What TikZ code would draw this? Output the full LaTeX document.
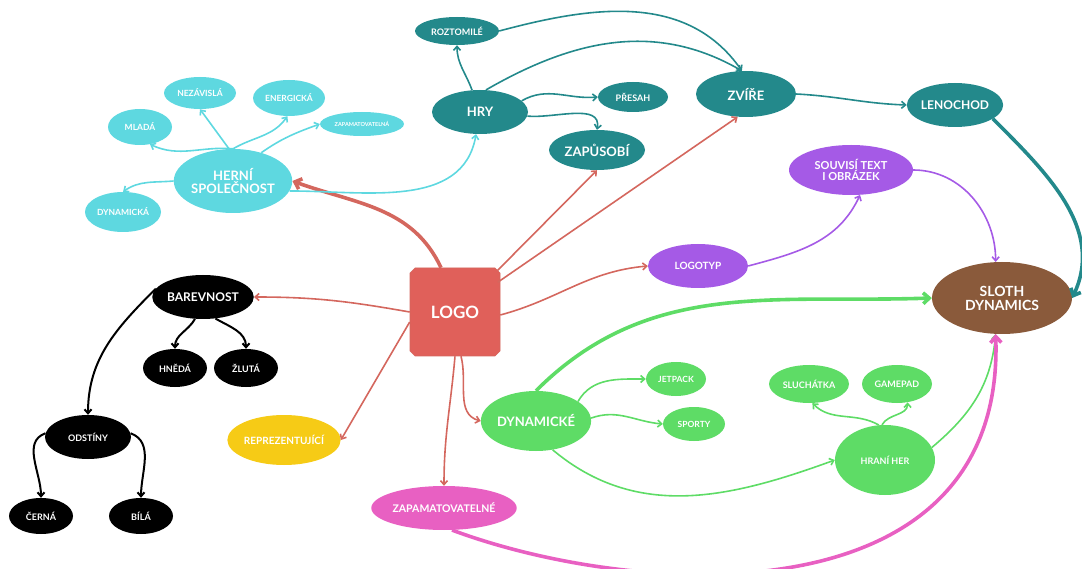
\documentclass[tikz,border=0pt]{standalone}
\usepackage{fontspec}
\setmainfont{Lato}
\usetikzlibrary{shapes.geometric,shapes.misc,arrows.meta}
\definecolor{tealc}{HTML}{23898B}
\definecolor{cyanc}{HTML}{5ED8E0}
\definecolor{redc}{HTML}{E0605A}
\definecolor{redl}{HTML}{D4675E}
\definecolor{purc}{HTML}{A55AE6}
\definecolor{brownc}{HTML}{8A5A3B}
\definecolor{greenc}{HTML}{5EDC66}
\definecolor{pinkc}{HTML}{E860C2}
\definecolor{yelc}{HTML}{F6CB16}
\begin{document}
\begin{tikzpicture}[x=1pt,y=1pt,
  nd/.style={ellipse, inner sep=0pt, text=white, align=center, font=\bfseries\fontsize{10}{11}\selectfont},
  sz/.style 2 args={minimum width=#1pt, minimum height=#2pt},
  fs/.style={font=\bfseries\fontsize{#1}{#1}\selectfont},
  ar/.style={-{Straight Barb[length=4pt,width=7pt]}, line width=1.6pt},
  tk/.style={-{Straight Barb[length=6pt,width=11pt]}, line width=3.6pt},
]
\useasboundingbox (0,0) rectangle (1082,-569);

% nodes
\node[nd, fill=tealc, sz={84}{28}, fs=9] (rozt) at (457,-31) {ROZTOMILÉ};
\node[nd, fill=tealc, sz={96}{44}, fs=13] (hry) at (480,-112) {HRY};
\node[nd, fill=tealc, sz={70}{30}, fs=9] (presah) at (633,-97) {PŘESAH};
\node[nd, fill=tealc, sz={96}{40}, fs=13] (zapus) at (597,-150) {ZAPŮSOBÍ};
\node[nd, fill=tealc, sz={100}{46}, fs=13] (zvire) at (746,-94) {ZVÍŘE};
\node[nd, fill=tealc, sz={96}{44}, fs=12] (leno) at (955,-105) {LENOCHOD};

\node[nd, fill=cyanc, sz={106}{64}, fs=13] (herni) at (233,-181) {HERNÍ\\SPOLEČNOST};
\node[nd, fill=cyanc, sz={64}{36}, fs=8.5] (mlada) at (140,-127) {MLADÁ};
\node[nd, fill=cyanc, sz={72}{32}, fs=8.5] (nezav) at (200,-93) {NEZÁVISLÁ};
\node[nd, fill=cyanc, sz={72}{36}, fs=8.5] (energ) at (289,-98) {ENERGICKÁ};
\node[nd, fill=cyanc, sz={84}{24}, fs=5.5] (zapna) at (362,-124) {ZAPAMATOVATELNÁ};
\node[nd, fill=cyanc, sz={76}{40}, fs=8.5] (dynka) at (123,-212) {DYNAMICKÁ};

\node[nd, fill=purc, sz={124}{50}, fs=11] (souv) at (851,-170) {SOUVISÍ TEXT\\I OBRÁZEK};
\node[nd, fill=purc, sz={100}{44}, fs=10] (logot) at (698,-266) {LOGOTYP};
\node[nd, fill=brownc, sz={140}{72}, fs=14] (sloth) at (1002,-298) {SLOTH\\DYNAMICS};

\node[chamfered rectangle, chamfered rectangle xsep=2.5pt, chamfered rectangle ysep=2.5pt, fill=redc, draw=redl, line width=0.6pt, minimum width=90pt, minimum height=88pt, inner sep=0pt, text=white, fs=17] (logo) at (455,-312) {LOGO};

\node[nd, fill=black, sz={86}{44}, fs=12] (barev) at (203,-297) {BAREVNOST};
\node[nd, fill=black, sz={64}{38}, fs=9] (hneda) at (175,-368) {HNĚDÁ};
\node[nd, fill=black, sz={64}{38}, fs=9] (zluta) at (246,-368) {ŽLUTÁ};
\node[nd, fill=black, sz={86}{44}, fs=9] (odst) at (88,-437) {ODSTÍNY};
\node[nd, fill=black, sz={64}{36}, fs=9] (cerna) at (41,-516) {ČERNÁ};
\node[nd, fill=black, sz={64}{36}, fs=9] (bila) at (141,-516) {BÍLÁ};

\node[nd, fill=yelc, sz={110}{50}, fs=10] (repr) at (284,-440) {REPREZENTUJÍCÍ};
\node[nd, fill=pinkc, sz={112}{44}, fs=10.5] (zapne) at (444,-508) {ZAPAMATOVATELNÉ};
\node[nd, fill=greenc, sz={100}{60}, fs=13] (dynke) at (536,-421) {DYNAMICKÉ};
\node[nd, fill=greenc, sz={60}{34}, fs=8.5] (jet) at (676,-379) {JETPACK};
\node[nd, fill=greenc, sz={62}{34}, fs=8.5] (sporty) at (694,-424) {SPORTY};
\node[nd, fill=greenc, sz={80}{38}, fs=9] (sluch) at (809,-384) {SLUCHÁTKA};
\node[nd, fill=greenc, sz={70}{38}, fs=9] (gamep) at (897,-384) {GAMEPAD};
\node[nd, fill=greenc, sz={100}{70}, fs=9] (hrani) at (885,-460) {HRANÍ HER};

% red connectors from LOGO
\draw[tk, draw=redl] ([xshift=-14pt]logo.north) to[out=115,in=-20] (herni.east);
\draw[ar, draw=redl] (logo.north east) -- (zapus.south);
\draw[ar, draw=redl] ([yshift=-12pt]logo.north east) -- (zvire.250);
\draw[ar, draw=redl] ([yshift=-3pt]logo.east) to[out=15,in=185] (logot.west);
\draw[ar, draw=redl] (logo.west) to[out=170,in=0] (barev.east);
\draw[ar, draw=redl] ([yshift=-10pt]logo.west) -- (repr.east);
\draw[ar, draw=redl] (logo.south) to[out=-95,in=90] (zapne.north);
\draw[ar, draw=redl] ([xshift=6pt]logo.south) to[out=-75,in=165] (dynke.west);

% cyan
\draw[ar, draw=cyanc] (herni.north) to[out=175,in=-25] (mlada.-60);
\draw[ar, draw=cyanc] ([xshift=-4pt]herni.north) -- (nezav.south);
\draw[ar, draw=cyanc] (herni.north) to[out=30,in=-125] (energ.-95);
\draw[ar, draw=cyanc] (herni.45) to[out=35,in=200] (zapna.west);
\draw[ar, draw=cyanc] (herni.180) to[out=185,in=35] (dynka.north);
\draw[ar, draw=cyanc] (herni.-10) to[out=0,in=-100] (hry.-100);

% teal
\draw[ar, draw=tealc] (hry.110) to[out=110,in=-90] (rozt.south);
\draw[ar, draw=tealc] (hry.75) to[out=30,in=150] (zvire.100);
\draw[ar, draw=tealc] (rozt.east) to[out=15,in=125] (zvire.100);
\draw[ar, draw=tealc] (hry.15) to[out=30,in=185] (presah.west);
\draw[ar, draw=tealc] (hry.-5) to[out=-5,in=80] (zapus.north);
\draw[ar, draw=tealc] (zvire.east) to[out=-3,in=178] (leno.west);
\draw[tk, draw=tealc] (leno.-20) to[out=-45,in=65] (sloth.east);

% purple
\draw[ar, draw=purc] (logot.east) to[out=15,in=-115] (souv.-70);
\draw[ar, draw=purc] (souv.east) to[out=0,in=90] (sloth.100);

% green
\draw[tk, draw=greenc] (dynke.north) to[out=45,in=182] (sloth.west);
\draw[ar, draw=greenc] (dynke.25) to[out=60,in=180] (jet.west);
\draw[ar, draw=greenc] (dynke.3) to[out=20,in=175] (sporty.west);
\draw[ar, draw=greenc] (dynke.-60) to[out=-40,in=200] (hrani.west);
\draw[ar, draw=greenc] (hrani.100) to[out=150,in=-45] (sluch.-80);
\draw[ar, draw=greenc] (hrani.95) to[out=60,in=-90] (gamep.-60);
\draw[ar, draw=greenc] (hrani.15) to[out=40,in=-95] (sloth.-100);

% pink
\draw[tk, draw=pinkc] (zapne.-70) .. controls (640,-600) and (1005,-620) .. (sloth.-100);

% black
\draw[ar, draw=black, line width=2pt] (barev.-110) to[out=-120,in=90] (hneda.north);
\draw[ar, draw=black, line width=2pt] (barev.-60) to[out=-30,in=90] (zluta.north);
\draw[ar, draw=black, line width=2pt] (barev.170) to[out=225,in=90] (odst.north);
\draw[ar, draw=black, line width=2pt] (odst.175) to[out=200,in=90] (cerna.north);
\draw[ar, draw=black, line width=2pt] (odst.5) to[out=-20,in=90] (bila.north);
\end{tikzpicture}
\end{document}
